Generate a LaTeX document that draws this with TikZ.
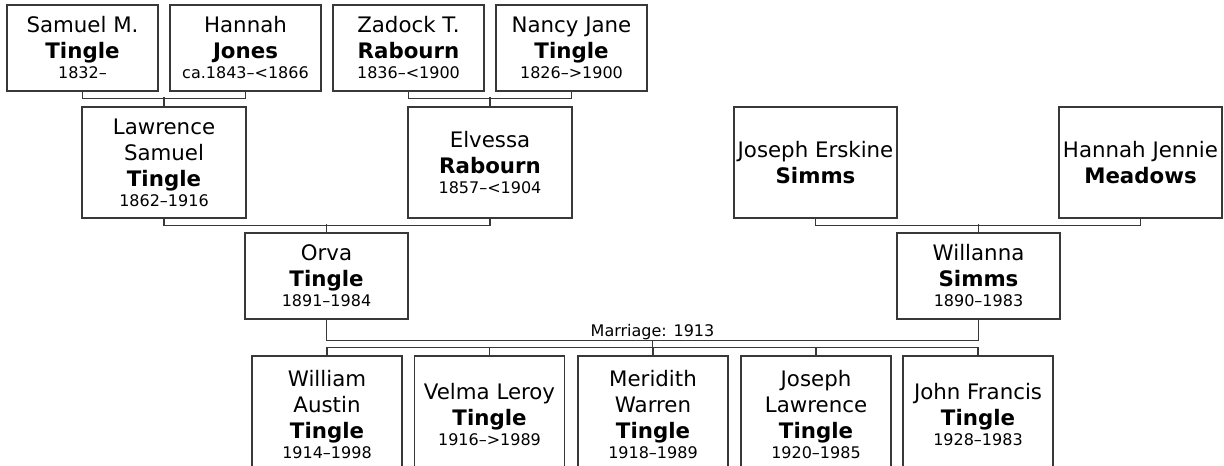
\documentclass[tikz,border=0pt]{standalone}
\usepackage{fontspec}
\setmainfont{DejaVu Sans}
\usetikzlibrary{calc}
\definecolor{cLine}{HTML}{383838}
\newdimen\pxu \pxu=0.75pt
\newcommand{\yr}[1]{\\[-4.5pt]{\fontsize{12}{14}\selectfont #1}}

\begin{document}
\begin{tikzpicture}[
  x=0.75pt, y=-0.75pt,
  every node/.style={font=\fontsize{16}{19.5}\selectfont},
  person/.style 2 args={rectangle, draw=cLine, line width=1pt, inner sep=0pt,
                        minimum width=#1\pxu, minimum height=#2\pxu, align=center},
  link/.style={draw=cLine, line width=1.2pt},
  note/.style={font=\fontsize{12}{14}\selectfont, inner sep=0pt},
]
\useasboundingbox (0,0) rectangle (1224,466);
\clip (0,0) rectangle (1224,466);

% Great-grandparents
\node[person={151}{86}] (samuel) at (82.5,48) {Samuel M.\\\textbf{Tingle}\yr{1832–}};
\node[person={151}{86}] (hannah) at (245.5,48) {Hannah\\\textbf{Jones}\yr{ca.1843–<1866}};
\node[person={151}{86}] (zadock) at (408.5,48) {Zadock T.\\\textbf{Rabourn}\yr{1836–<1900}};
\node[person={151}{86}] (nancy) at (571.5,48) {Nancy Jane\\\textbf{Tingle}\yr{1826–>1900}};

% Grandparents
\node[person={164}{111}] (lawrence) at (164,162.5) {Lawrence\\Samuel\\\textbf{Tingle}\yr{1862–1916}};
\node[person={164}{111}] (elvessa) at (490,162.5) {Elvessa\\\textbf{Rabourn}\yr{1857–<1904}};
\node[person={163}{111}] (joseph) at (815.5,162.5) {Joseph Erskine\\\textbf{Simms}};
\node[person={163}{111}] (jennie) at (1140.5,162.5) {Hannah Jennie\\\textbf{Meadows}};

% Parents
\node[person={163}{86}] (orva) at (326.5,276) {Orva\\\textbf{Tingle}\yr{1891–1984}};
\node[person={163}{86}] (willanna) at (978.5,276) {Willanna\\\textbf{Simms}\yr{1890–1983}};

% Children
\node[person={150}{118}] (william) at (327,415) {William\\Austin\\\textbf{Tingle}\yr{1914–1998}};
\node[person={150}{118}] (velma) at (489.5,415) {Velma Leroy\\\textbf{Tingle}\yr{1916–>1989}};
\node[person={150}{118}] (meridith) at (653,415) {Meridith\\Warren\\\textbf{Tingle}\yr{1918–1989}};
\node[person={150}{118}] (josephl) at (816,415) {Joseph\\Lawrence\\\textbf{Tingle}\yr{1920–1985}};
\node[person={150}{118}] (john) at (978,415) {John Francis\\\textbf{Tingle}\yr{1928–1983}};

% Couples
\draw[link] (samuel.south) -- ++(0,7) -| (hannah.south);
\draw[link] (lawrence.north) -- ++(0,-9);
\draw[link] (zadock.south) -- ++(0,7) -| (nancy.south);
\draw[link] (elvessa.north) -- ++(0,-9);
\draw[link] (lawrence.south) -- ++(0,7) -| (elvessa.south);
\draw[link] (orva.north) -- ++(0,-8);
\draw[link] (joseph.south) -- ++(0,7) -| (jennie.south);
\draw[link] (willanna.north) -- ++(0,-8);

% Marriage
\draw[link] (orva.south) -- ++(0,21) coordinate (mleft) -| (willanna.south);
\coordinate (mmid) at ($(mleft)!0.5!(mleft -| willanna.south)$);
\node[note, anchor=base] (marriage) at ($(mmid)+(0,-4)$) {Marriage: 1913};
\draw[link] (mmid) -- ++(0,8);
\draw[link] (william.north) -- ++(0,-8) -| (john.north);
\foreach \kid in {velma,meridith,josephl}
  \draw[link] (\kid.north) -- ++(0,-8);

\end{tikzpicture}
\end{document}
